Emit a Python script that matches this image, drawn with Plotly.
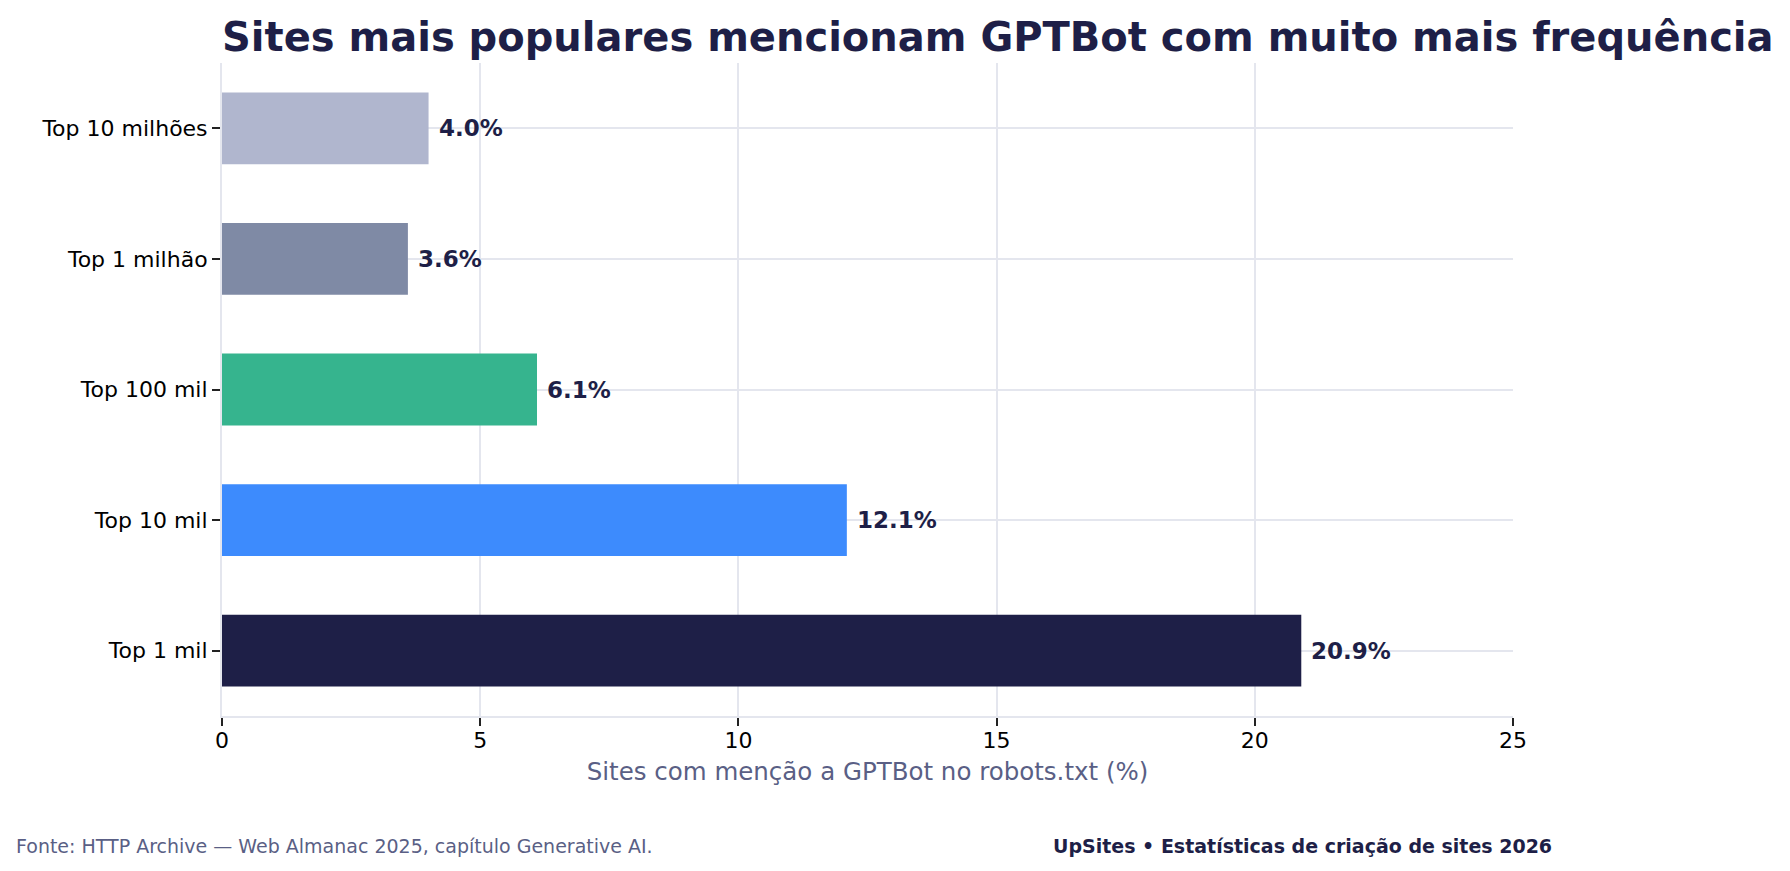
import plotly.graph_objects as go

# dados (de baixo para cima, como o plotly empilha as categorias)
categorias = ["Top 1 mil", "Top 10 mil", "Top 100 mil", "Top 1 milhão", "Top 10 milhões"]
percentuais = [20.9, 12.1, 6.1, 3.6, 4.0]
cores = ["#1E1F47", "#3D8BFD", "#36B48E", "#7F8AA5", "#B0B6CE"]
rotulos = ["20.9%", "12.1%", "6.1%", "3.6%", "4.0%"]
ticks_x = [0, 5, 10, 15, 20, 25]

titulo = "Sites mais populares mencionam GPTBot com muito mais frequência"
titulo_x = "Sites com menção a GPTBot no robots.txt (%)"
fonte = "Fonte: HTTP Archive — Web Almanac 2025, capítulo Generative AI."
assinatura = "UpSites • Estatísticas de criação de sites 2026"

NAVY = "#1E1F47"
SLATE = "#5A5F85"
GRID = "#E4E6EE"
FONT = "DejaVu Sans"

# area do grafico em px
L, R, T, B = 214, 285, 55, 163
PW, PH = 1790 - L - R, 871 - T - B

fig = go.Figure()
fig.add_trace(go.Bar(
    x=percentuais,
    y=categorias,
    orientation="h",
    marker=dict(color=cores, line=dict(width=0)),
    width=0.55,
    hoverinfo="skip",
))

# rotulos de valor ao lado das barras
for cat, val, txt in zip(categorias, percentuais, rotulos):
    fig.add_annotation(
        x=val, y=cat, text="<b>%s</b>" % txt,
        xref="x", yref="y", xanchor="left", yanchor="middle",
        xshift=8, showarrow=False,
        font=dict(family=FONT, size=23, color=NAVY),
    )

# rodape
fig.add_annotation(
    text=fonte, xref="paper", yref="paper",
    x=(6 - L) / PW, y=-130 / PH, xanchor="left", yanchor="middle",
    showarrow=False, font=dict(family=FONT, size=19, color=SLATE),
)
fig.add_annotation(
    text="<b>%s</b>" % assinatura, xref="paper", yref="paper",
    x=(1546 - L) / PW, y=-130 / PH, xanchor="right", yanchor="middle",
    showarrow=False, font=dict(family=FONT, size=19, color=NAVY),
)

fig.update_layout(
    width=1790,
    height=871,
    margin=dict(l=L, r=R, t=T, b=B),
    paper_bgcolor="white",
    plot_bgcolor="white",
    showlegend=False,
    title=dict(
        text="<b>%s</b>" % titulo,
        x=L / 1790, xanchor="left", xref="container",
        y=1 - 29 / 871, yanchor="middle", yref="container",
        font=dict(family=FONT, size=40, color=NAVY),
    ),
    font=dict(family=FONT, color="black"),
)

fig.update_xaxes(
    range=[0, 25],
    tickvals=ticks_x,
    ticks="outside", ticklen=8, tickwidth=2, tickcolor="#222222",
    ticklabelstandoff=-4,
    tickfont=dict(family=FONT, size=22, color="black"),
    showgrid=True, gridcolor=GRID, gridwidth=2,
    showline=True, linecolor=GRID, linewidth=2,
    zeroline=False,
    title=dict(text=titulo_x, font=dict(family=FONT, size=24.5, color=SLATE), standoff=10),
)
fig.update_yaxes(
    ticks="outside", ticklen=8, tickwidth=2, tickcolor="#222222",
    tickfont=dict(family=FONT, size=22, color="black"),
    showgrid=True, gridcolor=GRID, gridwidth=2,
    showline=True, linecolor=GRID, linewidth=2,
    zeroline=False,
)

fig.write_html("out.html")
